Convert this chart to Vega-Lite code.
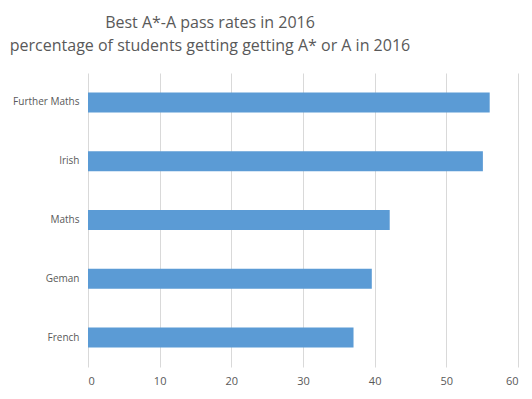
{
  "$schema": "https://vega.github.io/schema/vega-lite/v6.json",
  "width": 430,
  "height": 294,
  "autosize": {"type": "none"},
  "padding": {"left": 88, "top": 73, "right": 14, "bottom": 32},
  "background": "white",
  "title": {
    "text": ["Best A*-A pass rates in 2016", "percentage of students getting getting A* or A in 2016"],
    "anchor": "middle",
    "dx": -93,
    "offset": 19,
    "font": "Open Sans",
    "fontSize": 16,
    "fontWeight": "normal",
    "color": "#595959",
    "lineHeight": 23
  },
  "data": {
    "values": [
      {"subject": "Further Maths", "rate": 56.05},
      {"subject": "Irish", "rate": 55.1},
      {"subject": "Maths", "rate": 42.1},
      {"subject": "Geman", "rate": 39.6},
      {"subject": "French", "rate": 37.05}
    ]
  },
  "mark": {"type": "bar", "color": "#5b9bd5"},
  "encoding": {
    "y": {
      "field": "subject",
      "type": "nominal",
      "sort": null,
      "scale": {"paddingInner": 0.66, "paddingOuter": 0.33},
      "axis": {
        "title": null,
        "domain": false,
        "ticks": false,
        "labelPadding": 9,
        "labelFont": "Open Sans",
        "labelFontSize": 10,
        "labelColor": "#595959"
      }
    },
    "x": {
      "field": "rate",
      "type": "quantitative",
      "scale": {"domain": [0, 60], "nice": false},
      "axis": {
        "title": null,
        "values": [0, 10, 20, 30, 40, 50, 60],
        "domain": false,
        "ticks": false,
        "grid": true,
        "gridColor": "#d9d9d9",
        "gridWidth": 1,
        "labelPadding": 8,
        "labelFont": "Open Sans",
        "labelFontSize": 11,
        "labelColor": "#595959"
      }
    }
  },
  "config": {"view": {"stroke": null}}
}
